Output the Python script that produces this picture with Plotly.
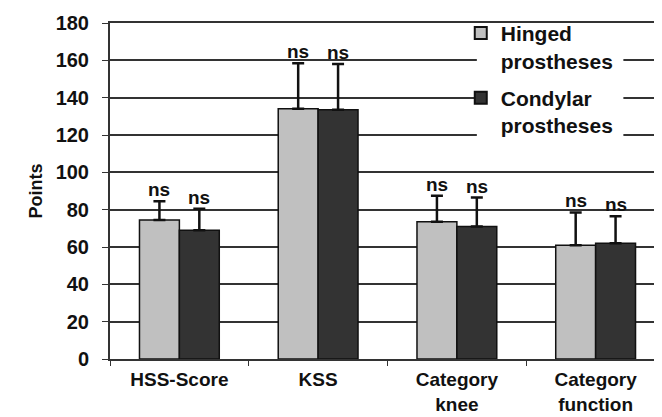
import plotly.graph_objects as go

categories = ["HSS-Score", "KSS", "Category<br>knee", "Category<br>function"]
hinged_mean = [74.5, 134, 73.5, 61]
hinged_sd = [10, 24.5, 14, 17.5]
condylar_mean = [69, 133.5, 71, 62]
condylar_sd = [11.5, 24.5, 15.5, 14.5]
sig_labels = ["ns", "ns", "ns", "ns"]
y_ticks = [0, 20, 40, 60, 80, 100, 120, 140, 160, 180]

FONT = "Liberation Sans, Arial, sans-serif"

fig = go.Figure()
fig.add_trace(go.Bar(
    name="<b>Hinged<br>prostheses</b>", x=categories, y=hinged_mean, legendgroup="h",
    marker=dict(color="#c0c0c0", line=dict(color="#111111", width=1.5)),
    error_y=dict(type="data", array=hinged_sd, symmetric=False, arrayminus=[0]*4,
                 color="#111111", thickness=2.5, width=6),
))
fig.add_trace(go.Bar(
    name="<b>Condylar<br>prostheses</b>", x=categories, y=condylar_mean, legendgroup="c",
    marker=dict(color="#333333", line=dict(color="#111111", width=1.5)),
    error_y=dict(type="data", array=condylar_sd, symmetric=False, arrayminus=[0]*4,
                 color="#111111", thickness=2.5, width=6),
))

for i, c in enumerate(categories):
    for m, s, shift in ((hinged_mean, hinged_sd, -20), (condylar_mean, condylar_sd, 20)):
        fig.add_annotation(x=c, y=m[i] + s[i], xshift=shift, yshift=-1,
                           text="<b>" + sig_labels[i] + "</b>", showarrow=False, yanchor="bottom",
                           font=dict(family=FONT, size=19, color="#111111"))

# white panel behind the legend text (hides gridlines, keeps the frame)
fig.add_shape(type="rect", xref="paper", yref="paper", x0=0.661, x1=0.925, y0=0.628, y1=0.979,
              fillcolor="white", line=dict(width=0), layer="above")

fig.update_layout(
    width=662, height=417,
    margin=dict(l=102, r=3, t=15, b=66),
    paper_bgcolor="white", plot_bgcolor="white",
    barmode="group", bargap=0.425, bargroupgap=0,
    font=dict(family=FONT, size=18, color="#111111"),
    showlegend=True,
    legend=dict(x=0.632, y=1.03, xanchor="left", yanchor="top",
                bgcolor="rgba(0,0,0,0)", borderwidth=0, tracegroupgap=7,
                font=dict(family=FONT, size=21, color="#111111"),
                valign="top", itemsizing="constant"),
)
fig.update_xaxes(
    showline=True, linecolor="#333333", linewidth=2, mirror=True,
    ticks="outside", tickson="boundaries", ticklen=5, tickcolor="#333333",
    ticklabelstandoff=2,
    tickvals=categories, ticktext=["<b>" + c.replace("<br>", "</b><br><b>") + "</b>" for c in categories],
    tickfont=dict(family=FONT, size=19, color="#111111"),
    showgrid=False,
)
fig.update_yaxes(
    range=[0, 180], tickvals=y_ticks, ticktext=["<b>%d</b>" % v for v in y_ticks],
    ticks="outside", ticklen=6, tickcolor="#333333",
    ticklabelstandoff=9,
    showline=True, linecolor="#333333", linewidth=2, mirror=True,
    showgrid=True, gridcolor="#333333", gridwidth=1.5,
    zeroline=False,
    tickfont=dict(family=FONT, size=20, color="#111111"),
    title=dict(text="<b>Points</b>", standoff=8,
               font=dict(family=FONT, size=18, color="#111111")),
)

fig.write_html("out.html")
